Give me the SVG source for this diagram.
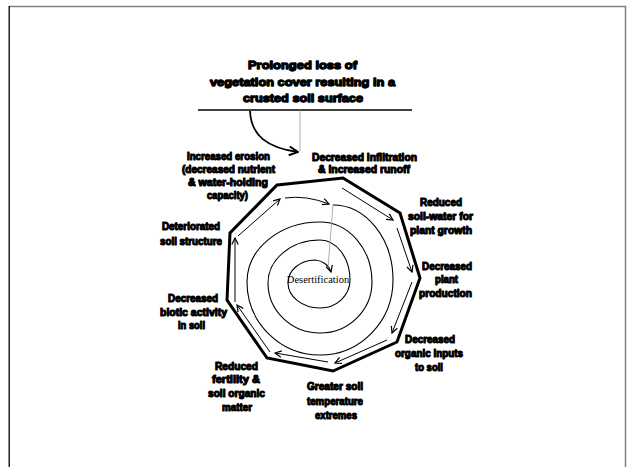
<svg xmlns="http://www.w3.org/2000/svg" width="629" height="467" viewBox="0 0 629 467">
<style>
.lbl{font-family:"Liberation Sans",Arial,sans-serif;font-weight:bold;font-size:10.5px;fill:#000;stroke:#000;stroke-width:1.1;stroke-linejoin:round}
.ttl{font-family:"Liberation Sans",Arial,sans-serif;font-weight:bold;font-size:11.5px;fill:#000;stroke:#000;stroke-width:1.3;stroke-linejoin:round}
.ctr{font-family:"Liberation Serif","Times New Roman",serif;font-size:10.5px;fill:#000}
.arr{fill:none;stroke:#000;stroke-width:1;marker-end:url(#ah)}
.guide{fill:none;stroke:#9a9a9a;stroke-width:0.8}
</style>
<defs>
<marker id="ah" viewBox="0 0 10 10" refX="9" refY="5" markerWidth="8" markerHeight="8" markerUnits="userSpaceOnUse" orient="auto">
<path d="M1,1 L9,5 L1,9" fill="none" stroke="#000" stroke-width="1.5"/>
</marker>
<marker id="ahb" viewBox="0 0 10 10" refX="9" refY="5" markerWidth="11" markerHeight="11" markerUnits="userSpaceOnUse" orient="auto">
<path d="M1,1 L9,5 L1,9" fill="none" stroke="#000" stroke-width="1.8"/>
</marker>
</defs>
<rect width="629" height="467" fill="#fff"/>
<g id="frame">
<line x1="9" y1="6.5" x2="626" y2="6.5" stroke="#808080" stroke-width="1.5"/>
<line x1="9.2" y1="6" x2="9.2" y2="467" stroke="#000" stroke-width="1.3"/>
<line x1="625.5" y1="6" x2="625.5" y2="467" stroke="#808080" stroke-width="1.5"/>
</g>
<g id="title">
<text class="ttl" x="248" y="68.5" textLength="109" lengthAdjust="spacingAndGlyphs">Prolonged loss of</text>
<text class="ttl" x="210" y="85.5" textLength="185" lengthAdjust="spacingAndGlyphs">vegetation cover resulting in a</text>
<text class="ttl" x="243" y="101.5" textLength="120" lengthAdjust="spacingAndGlyphs">crusted soil surface</text>
<line x1="198" y1="110" x2="412" y2="110" stroke="#000" stroke-width="1.6"/>
</g>
<g id="cycle">
<polygon points="277,185 343,178 400,213 420,278 397,342 333,371 267,358 227,300 230,233" fill="none" stroke="#000" stroke-width="3" stroke-linejoin="miter"/>
</g>
<g id="spiral">
<path d="M333,205 A60,75 0 0 1 393,280 A73,75 0 0 1 320,355 A73,73 0 0 1 247,282 A73,60 0 0 1 320,222 A52,60 0 0 1 372,282 A52,51 0 0 1 320,333 A52,50 0 0 1 268,283 A52,43 0 0 1 320,240 A30,40 0 0 1 350,280 A30,28 0 0 1 320,308 A32,25 0 0 1 288,283 A27,23 0 0 1 315,260 A18,16 0 0 1 331,272" fill="none" stroke="#000" stroke-width="1.1" marker-end="url(#ah)"/>
<text class="ctr" x="318" y="283" text-anchor="middle">Desertification</text>
</g>
<g id="connectors">
<line class="guide" x1="300" y1="110" x2="300" y2="151"/>
<line class="guide" x1="333" y1="204" x2="328" y2="268"/>
<path d="M250,111 C251,136 268,148 298,152" fill="none" stroke="#000" stroke-width="1.8" marker-end="url(#ahb)"/>
<path class="arr" d="M238,236 L280,199"/>
<path class="arr" d="M285,198 Q306,195 329,204"/>
<path class="arr" d="M342,188 L393,220"/>
<path class="arr" d="M397,228 L412,272"/>
<path class="arr" d="M412,282 L392,333"/>
<path class="arr" d="M387,340 L335,363"/>
<path class="arr" d="M328,362 L275,353"/>
<path class="arr" d="M270,352 L237,305"/>
<path class="arr" d="M235,302 L235,238"/>
</g>
<g id="n-infiltration">
<text class="lbl" x="312" y="161" textLength="105" lengthAdjust="spacingAndGlyphs">Decreased infiltration</text>
<text class="lbl" x="318" y="173" textLength="92" lengthAdjust="spacingAndGlyphs">&amp; increased runoff</text>
</g>
<g id="n-erosion">
<text class="lbl" x="187" y="160" textLength="83" lengthAdjust="spacingAndGlyphs">Increased erosion</text>
<text class="lbl" x="182" y="173" textLength="93" lengthAdjust="spacingAndGlyphs">(decreased nutrient</text>
<text class="lbl" x="188" y="186" textLength="80" lengthAdjust="spacingAndGlyphs">&amp; water-holding</text>
<text class="lbl" x="207" y="199" textLength="41" lengthAdjust="spacingAndGlyphs">capacity)</text>
</g>
<g id="n-soilwater">
<text class="lbl" x="420" y="206" textLength="42" lengthAdjust="spacingAndGlyphs">Reduced</text>
<text class="lbl" x="408" y="220" textLength="65" lengthAdjust="spacingAndGlyphs">soil-water for</text>
<text class="lbl" x="410" y="234" textLength="62" lengthAdjust="spacingAndGlyphs">plant growth</text>
</g>
<g id="n-production">
<text class="lbl" x="422" y="270" textLength="50" lengthAdjust="spacingAndGlyphs">Decreased</text>
<text class="lbl" x="435" y="283" textLength="23" lengthAdjust="spacingAndGlyphs">plant</text>
<text class="lbl" x="419" y="297" textLength="53" lengthAdjust="spacingAndGlyphs">production</text>
</g>
<g id="n-organic">
<text class="lbl" x="405" y="343" textLength="50" lengthAdjust="spacingAndGlyphs">Decreased</text>
<text class="lbl" x="395" y="357" textLength="68" lengthAdjust="spacingAndGlyphs">organic inputs</text>
<text class="lbl" x="415" y="371" textLength="28" lengthAdjust="spacingAndGlyphs">to soil</text>
</g>
<g id="n-temperature">
<text class="lbl" x="307" y="390" textLength="56" lengthAdjust="spacingAndGlyphs">Greater soil</text>
<text class="lbl" x="307" y="405" textLength="56" lengthAdjust="spacingAndGlyphs">temperature</text>
<text class="lbl" x="315" y="419" textLength="42" lengthAdjust="spacingAndGlyphs">extremes</text>
</g>
<g id="n-fertility">
<text class="lbl" x="215" y="370" textLength="43" lengthAdjust="spacingAndGlyphs">Reduced</text>
<text class="lbl" x="212" y="383" textLength="48" lengthAdjust="spacingAndGlyphs">fertility &amp;</text>
<text class="lbl" x="208" y="397" textLength="57" lengthAdjust="spacingAndGlyphs">soil organic</text>
<text class="lbl" x="222" y="411" textLength="30" lengthAdjust="spacingAndGlyphs">matter</text>
</g>
<g id="n-biotic">
<text class="lbl" x="168" y="302" textLength="50" lengthAdjust="spacingAndGlyphs">Decreased</text>
<text class="lbl" x="160" y="316" textLength="67" lengthAdjust="spacingAndGlyphs">biotic activity</text>
<text class="lbl" x="178" y="329" textLength="27" lengthAdjust="spacingAndGlyphs">in soil</text>
</g>
<g id="n-structure">
<text class="lbl" x="162" y="230" textLength="58" lengthAdjust="spacingAndGlyphs">Deteriorated</text>
<text class="lbl" x="160" y="245" textLength="62" lengthAdjust="spacingAndGlyphs">soil structure</text>
</g>
</svg>
